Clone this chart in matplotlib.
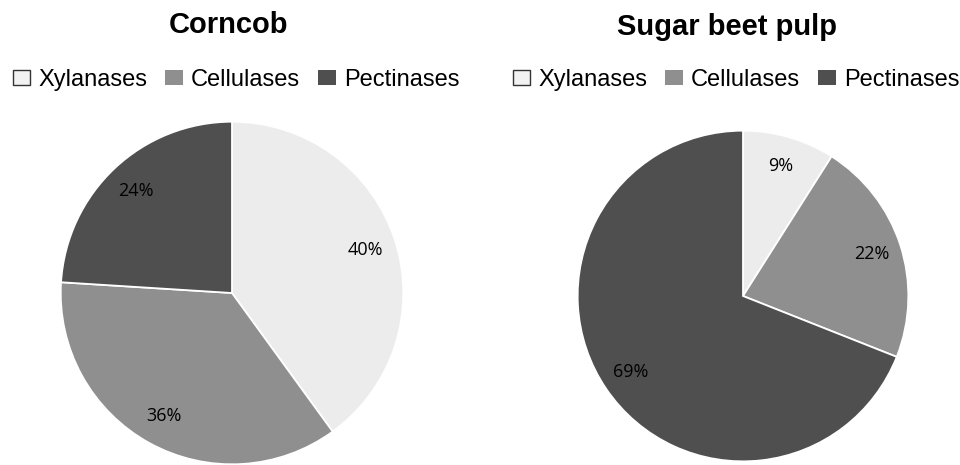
import matplotlib
matplotlib.use('Agg')
import matplotlib.pyplot as plt
from matplotlib.patches import Patch

# enzyme shares per substrate
enzymes = ['Xylanases', 'Cellulases', 'Pectinases']
corncob = [40, 36, 24]
beet_pulp = [9, 22, 69]
colors = ['#ececec', '#8f8f8f', '#4f4f4f']

fig = plt.figure(figsize=(9.6, 4.65), dpi=100)
fig.patch.set_facecolor('white')

def draw_pie(rect, values):
    ax = fig.add_axes(rect)
    wedges, texts, autotexts = ax.pie(values, colors=colors, startangle=90, counterclock=False,
                                      autopct=lambda p: '%d%%' % round(p), pctdistance=0.82,
                                      wedgeprops=dict(edgecolor='white', linewidth=1.3))
    for t in autotexts:
        t.set_fontfamily('Open Sans')
        t.set_fontsize(13)
        t.set_color('black')
    ax.set_xlim(-1.01, 1.01)
    ax.set_ylim(-1.01, 1.01)
    ax.set_aspect('equal')
    ax.axis('off')
    return ax

draw_pie([59/960, -1/465, 346/960, 346/465], corncob)
draw_pie([576/960, 2/465, 334/960, 334/465], beet_pulp)

# titles
fig.text(229/960, 1 - 25/465, 'Corncob', ha='center', va='center',
         fontsize=21, fontweight='bold', family='Liberation Sans')
fig.text(727/960, 1 - 27/465, 'Sugar beet pulp', ha='center', va='center',
         fontsize=21, fontweight='bold', family='Liberation Sans')

# legends
handles = [Patch(facecolor='#f2f2f2', edgecolor='#333333', linewidth=1.0),
           Patch(facecolor=colors[1], edgecolor='none'),
           Patch(facecolor=colors[2], edgecolor='none')]
for cx in [236, 736]:
    fig.legend(handles, enzymes, loc='center', bbox_to_anchor=(cx/960, 1 - 80/465),
               ncol=3, frameon=False, borderpad=0, handlelength=0.75, handleheight=0.6,
               handletextpad=0.35, columnspacing=0.75,
               prop={'family': 'Liberation Sans', 'size': 17})

plt.savefig('out.png', dpi=100)
